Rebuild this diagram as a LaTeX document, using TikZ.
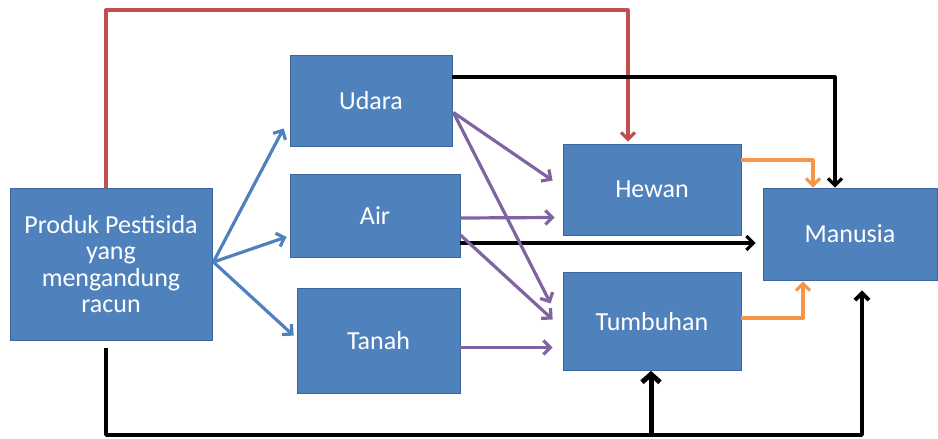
\documentclass[tikz,border=0pt]{standalone}
\usepackage{fontspec}
\setmainfont{Carlito}
\usetikzlibrary{arrows.meta,calc}
\definecolor{boxblue}{HTML}{4F81BD}
\definecolor{boxedge}{HTML}{3A679C}
\definecolor{redline}{HTML}{C0504D}
\definecolor{purpline}{HTML}{8064A2}
\definecolor{orangeline}{HTML}{F79646}
\begin{document}
\begin{tikzpicture}[x=1pt,y=-1pt,
  box/.style={draw=boxedge,line width=0.8pt,fill=boxblue,text=white,align=center,
    font=\fontsize{26}{26.5}\selectfont,inner sep=0pt},
  conn/.style={line width=3.2pt,line join=round,-{Straight Barb[length=7pt,width=14pt]}},
  bluearr/.style={conn,draw=boxblue},
  purparr/.style={conn,draw=purpline},
  blackarr/.style={conn,draw=black},
  redarr/.style={conn,draw=redline},
  orarr/.style={conn,draw=orangeline},
]
\useasboundingbox (0,0) rectangle (938,439);
\node[box,minimum width=202pt,minimum height=152pt] (P) at (111,264) {Produk Pestisida\\yang\\mengandung\\racun};
\node[box,minimum width=162pt,minimum height=91pt] (U) at (371,100.5) {Udara};
\node[box,minimum width=170pt,minimum height=83pt] (A) at (375,216) {Air};
\node[box,minimum width=163pt,minimum height=105pt] (Ta) at (378.5,340.5) {Tanah};
\node[box,minimum width=178pt,minimum height=91pt] (H) at (652,189.5) {Hewan};
\node[box,minimum width=178pt,minimum height=98pt] (Tu) at (652,321.5) {Tumbuhan};
\node[box,minimum width=174pt,minimum height=92pt] (M) at (850,234) {Manusia};

% fan from Produk
\coordinate (f) at ($(P.east)+(1,-2)$);
\draw[bluearr] (f) -- ($(U.south west)+(-6,-18)$);
\draw[bluearr] (f) -- ($(A.south west)+(-3,-21)$);
\draw[bluearr] (f) -- ($(Ta.north west)+(-3,48)$);

% red line
\coordinate (r1) at (106,10);
\coordinate (r2) at (628,10);
\draw[redarr] (P.north -| r1) -- (r1) -- (r2) -- ($(r2 |- H.north)+(0,-2)$);

% black Udara -> Manusia
\coordinate (k1) at (835,77);
\draw[blackarr] (k1 -| U.east) -- (k1) -- (k1 |- M.north);

% orange Hewan -> Manusia
\coordinate (o1) at (813,160);
\draw[orarr] (o1 -| H.east) -- (o1) -- (o1 |- M.north);

% black Air -> Manusia
\coordinate (k2) at (700,243);
\draw[blackarr] (k2 -| A.east) -- ($(k2 -| M.west)+(-7,0)$);

% orange Tumbuhan -> Manusia
\coordinate (o2) at (803,318);
\draw[orarr] (o2 -| Tu.east) -- (o2) -- ($(o2 |- M.south)+(0,1)$);

% purple
\draw[purparr] ($(U.east)+(1,12)$) -- ($(H.west)+(-10,-9)$);
\draw[purparr] ($(U.east)+(1,12)$) -- ($(Tu.west)+(-12,-18)$);
\draw[purparr] ($(A.east)+(0,2)$) -- ($(H.west)+(-8,28)$);
\draw[purparr] ($(A.east)+(0,19)$) -- ($(Tu.west)+(-10,-2)$);
\draw[purparr] ($(Ta.east)+(0,7)$) -- ($(Tu.west)+(-10,26)$);

% bottom black
\coordinate (b2) at (106,435);
\coordinate (b3) at (862,435);
\coordinate (b4) at (651,435);
\draw[blackarr,line width=3.8pt] ($(b2 |- P.south)+(0,8)$) -- (b2) -- (b3) -- ($(b3 |- M.south)+(0,10)$);
\draw[conn,line width=5pt,-{Straight Barb[length=8pt,width=18pt]}] (b4) -- (b4 |- Tu.south);
\end{tikzpicture}
\end{document}
